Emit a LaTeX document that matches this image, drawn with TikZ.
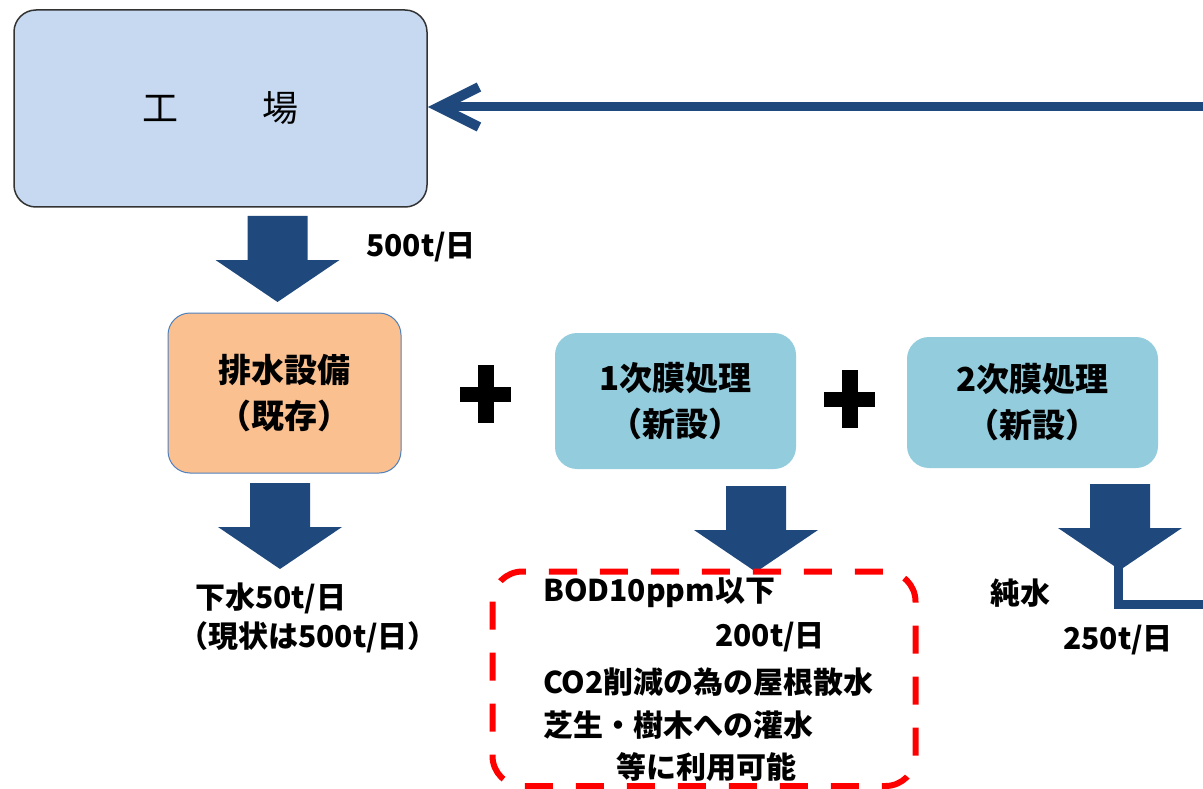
\documentclass[tikz,border=0pt]{standalone}
\usepackage{fontspec}
\setmainfont{Noto Sans CJK JP}
\usetikzlibrary{arrows.meta}
\definecolor{arrowblue}{HTML}{1F497D}
\definecolor{factoryfill}{HTML}{C6D9F1}
\definecolor{drainfill}{HTML}{FAC090}
\definecolor{drainedge}{HTML}{4F81BD}
\definecolor{membfill}{HTML}{93CDDD}
\tikzset{
  box/.style={inner sep=0pt, align=center, rounded corners=22pt,
    font=\fontsize{33}{46}\selectfont\bfseries},
  factorybox/.style={box, fill=factoryfill, draw=black!80, line width=1.5pt,
    font=\fontsize{36}{40}\selectfont},
  drainbox/.style={box, fill=drainfill, draw=drainedge, line width=1pt},
  membbox/.style={box, fill=membfill},
  lbl/.style={inner sep=0pt, anchor=west, font=\fontsize{30}{34}\selectfont\bfseries},
  flowline/.style={draw=arrowblue, line width=9pt},
  blockarrow/.pic={
    \fill[arrowblue] (-30,0) -- (30,0) -- (30,44) -- (62,44) -- (0,86)
      -- (-62,44) -- (-30,44) -- cycle;
  },
  plussign/.pic={
    \fill[black] (-25.5,-7.5) rectangle (25.5,7.5);
    \fill[black] (-8,-29) rectangle (8,29);
  }
}
\begin{document}
\begin{tikzpicture}[x=1pt,y=-1pt]
\useasboundingbox[fill=white] (0,0) rectangle (1203,789);

% boxes
\node[factorybox, minimum width=413pt, minimum height=197pt] (factory)
  at (220.5,108.5) {工\hspace{84pt}場};
\node[drainbox, minimum width=233pt, minimum height=160pt] (drain)
  at (284.5,393) {排水設備\\（既存）};
\node[membbox, minimum width=241pt, minimum height=136pt] (memb1)
  at (675.5,401) {1次膜処理\\（新設）};
\node[membbox, minimum width=251pt, minimum height=131pt] (memb2)
  at (1032.5,402.5) {2次膜処理\\（新設）};

% plus signs
\pic at (485.5,394) {plussign};
\pic at (849.5,399) {plussign};

% block arrows
\pic at (277.5,216) {blockarrow};
\pic at (280,483) {blockarrow};
\pic at (756,486) {blockarrow};
\pic at (1120,484) {blockarrow};

% return line to factory
\coordinate (retstart) at (1203,107);
\draw[flowline, -{Straight Barb[length=40pt,width=40pt,line width=10pt]}]
  (retstart) -- (factory.east |- retstart);

% pure water line
\coordinate (puretop) at (1118.5,565);
\coordinate (pureend) at (1203,604.5);
\draw[flowline] (puretop) |- (pureend);

% labels
\node[lbl] (l500) at (366,247) {500t/日};
\node[lbl] (gesui) at (195,598) {下水50t/日};
\node[lbl] (genjo) at (178,637) {（現状は500t/日）};
\node[lbl] (junsui) at (990,593) {純水};
\node[lbl] (l250) at (1063,640) {250t/日};

% dashed reuse box
\draw[red, line width=6pt, dash pattern=on 28pt off 23pt, rounded corners=30pt]
  (492.5,571.5) rectangle (915.5,786);
\node[lbl] (bod) at (543,593) {BOD10ppm以下};
\node[lbl] (l200) at (715,637) {200t/日};
\node[lbl] (co2) at (543,682) {CO2削減の為の屋根散水};
\node[lbl] (shiba) at (543,725) {芝生・樹木への灌水};
\node[lbl] (riyo) at (616,767) {等に利用可能};
\end{tikzpicture}
\end{document}
